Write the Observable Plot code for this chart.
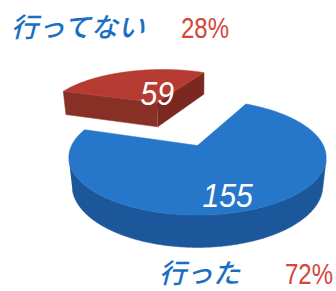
<!DOCTYPE html>
<html><head><meta charset="utf-8">
<script src="https://cdn.jsdelivr.net/npm/d3@7"></script>
<script src="https://cdn.jsdelivr.net/npm/@observablehq/plot@0.6"></script>
<style>
html,body{margin:0;padding:0;background:#fff;}
#wrap{width:336px;height:291px;overflow:hidden;}
.band{position:relative;width:336px;}
.lab{position:absolute;white-space:nowrap;line-height:1;}
.jp{font-family:"Noto Sans CJK JP",sans-serif;font-style:italic;font-weight:500;color:#1a6ec4;font-size:27px;}
.pct{font-family:"Liberation Sans",sans-serif;color:#d4473a;font-size:30px;transform:scaleX(0.8);transform-origin:100% 0;}
svg{display:block;}
</style></head><body><div id="wrap"></div>
<script>
// ---- data ----
const categories = ["行った", "行ってない"];
const values = [155, 59];
const percentLabels = ["72%", "28%"];

// ---- layout (not data) ----
const W = 336, H = 291, topH = 48, botH = 41, svgH = H - topH - botH;
const CX = 197, CY = 145, F = 549, DIST = 4.36, TILT = 26 * Math.PI / 180, THICK = 0.25;
const START = 162.2; // plan angle (deg) where the first slice begins (counterclockwise)
const explodeBy = {"行った": 0, "行ってない": 1.0};
const labelAt = {"行った": {r: 0.8, dA: -8}, "行ってない": {r: 0.22, dA: -20}};
const palette = {
  "行った": {top: "#2676c9", side: "#1c579c", e0: "#1c579c", e1: "#1c579c"},
  "行ってない": {top: "#b63c33", side: "#883026", e0: "#7a2820", e1: "#883026"}
};
// label boxes: left edge (or right edge for percentages) and top, in page pixels
const labelPos = {
  top: [{t: 0, x: 11, y: 12, cls: "jp"}, {t: 1, right: 336 - 229, y: 12.6, cls: "pct"}],
  bottom: [{t: 0, x: 159, y: 257.5 - (H - botH), cls: "jp"}, {t: 1, right: 3, y: 259.2 - (H - botH), cls: "pct"}]
};

const S = Math.sin(TILT), C = Math.cos(TILT);
const rad = d => d * Math.PI / 180;
function proj(u, v, h) {
  const yc = v * S + h * C, zc = DIST + v * C - h * S;
  return [CX + F * u / zc, CY - F * yc / zc];
}
const cam = [0, -DIST * C];

const total = d3.sum(values);
let a = START;
const slices = categories.map((cat, i) => {
  const sweep = values[i] / total * 360;
  const a0 = a, a1 = a + sweep; a = a1;
  const mid = (a0 + a1) / 2;
  const e = explodeBy[cat];
  return {cat, value: values[i], a0, a1, mid, ox: e * Math.cos(rad(mid)), oy: e * Math.sin(rad(mid))};
});

const marks = [];
const order = slices.slice().sort((p, q) => q.oy - p.oy); // back to front
const textData = [];
for (const s of order) {
  const col = palette[s.cat];
  const O = [s.ox, s.oy];
  const rim = t => [s.ox + Math.cos(rad(t)), s.oy + Math.sin(rad(t))];
  const vis = (n, P) => n[0] * (cam[0] - P[0]) + n[1] * (cam[1] - P[1]) > 0;
  const faces = [
    {t: s.a0, n: [Math.sin(rad(s.a0)), -Math.cos(rad(s.a0))], fill: col.e0},
    {t: s.a1, n: [-Math.sin(rad(s.a1)), Math.cos(rad(s.a1))], fill: col.e1}
  ];
  for (const f of faces) {
    if (!vis(f.n, O)) continue;
    const R = rim(f.t);
    const pts = [proj(O[0], O[1], 0), proj(R[0], R[1], 0), proj(R[0], R[1], -THICK), proj(O[0], O[1], -THICK)];
    marks.push(Plot.line(pts, {x: d => d[0], y: d => d[1], fill: f.fill, stroke: f.fill, strokeWidth: 0.5}));
  }
  let run = [];
  const runs = [];
  for (let t = s.a0; t <= s.a1 + 1e-9; t += 0.5) {
    const P = rim(t);
    if (vis([Math.cos(rad(t)), Math.sin(rad(t))], P)) run.push(t);
    else if (run.length) { runs.push(run); run = []; }
  }
  if (run.length) runs.push(run);
  for (const r of runs) {
    const topPts = r.map(t => { const P = rim(t); return proj(P[0], P[1], 0); });
    const botPts = r.slice().reverse().map(t => { const P = rim(t); return proj(P[0], P[1], -THICK); });
    marks.push(Plot.line(topPts.concat(botPts), {x: d => d[0], y: d => d[1], fill: col.side, stroke: col.side, strokeWidth: 0.5}));
  }
  const topFace = [proj(O[0], O[1], 0)];
  for (let t = s.a0; t <= s.a1 + 1e-9; t += 0.5) { const P = rim(t); topFace.push(proj(P[0], P[1], 0)); }
  { const P = rim(s.a1); topFace.push(proj(P[0], P[1], 0)); }
  topFace.push(proj(O[0], O[1], 0));
  marks.push(Plot.line(topFace, {x: d => d[0], y: d => d[1], fill: col.top, stroke: col.top, strokeWidth: 0.5}));
  const la = labelAt[s.cat];
  const lp = proj(s.ox + la.r * Math.cos(rad(s.mid + la.dA)), s.oy + la.r * Math.sin(rad(s.mid + la.dA)), 0);
  textData.push({x: lp[0], y: lp[1], text: String(s.value)});
}
marks.push(Plot.text(textData, {x: "x", y: "y", text: "text", fill: "white", fontSize: 34, fontStyle: "italic",
  fontFamily: '"Liberation Sans",sans-serif'}));

const chart = Plot.plot({
  width: W, height: svgH,
  margin: 0, marginTop: 0, marginRight: 0, marginBottom: 0, marginLeft: 0,
  x: {domain: [0, W], range: [0, W], axis: null},
  y: {domain: [topH, topH + svgH], range: [0, svgH], axis: null},
  style: {background: "white", overflow: "visible"},
  marks
});
// condense the value labels horizontally
d3.select(chart).selectAll("text").each(function () {
  const n = this.textContent.length;
  d3.select(this).attr("textLength", n * 16.8).attr("lengthAdjust", "spacingAndGlyphs");
});

const wrap = document.getElementById("wrap");
function band(h, items, catIndex) {
  const d = document.createElement("div");
  d.className = "band"; d.style.height = h + "px";
  for (const it of items) {
    const sp = document.createElement("span");
    sp.className = "lab " + it.cls;
    sp.textContent = it.t === 0 ? categories[catIndex] : percentLabels[catIndex];
    if (it.right != null) sp.style.right = it.right + "px"; else sp.style.left = it.x + "px";
    sp.style.top = it.y + "px";
    d.appendChild(sp);
  }
  return d;
}
wrap.appendChild(band(topH, labelPos.top, 1));
wrap.appendChild(chart);
wrap.appendChild(band(botH, labelPos.bottom, 0));
</script>
</body></html>
